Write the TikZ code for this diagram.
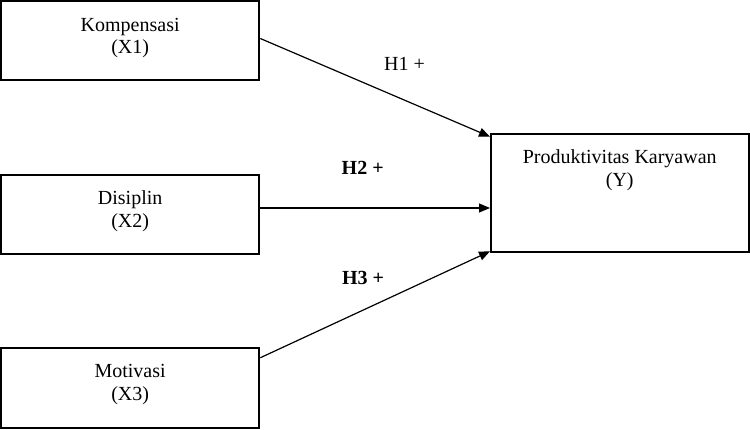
\documentclass[tikz,border=0pt]{standalone}
\usepackage{fontspec}
\setmainfont{Liberation Serif}
\usepackage{tikz}
\usetikzlibrary{calc,arrows.meta}

\begin{document}
\begin{tikzpicture}[x=1pt,y=-1pt,
		varbox/.style={draw,line width=2pt,outer sep=0pt,inner sep=0pt,minimum width=258.3pt,minimum height=79.5pt},
		vartext/.style={anchor=north,inner sep=0pt,align=center,font=\fontsize{20}{22.5}\selectfont},
		hyp/.style={anchor=base,inner sep=0pt,font=\fontsize{20}{22.5}\selectfont},
		link/.style={line width=1.2pt,-{Triangle[length=11pt,width=9pt]}}]
				%page size fixed by hand
				\useasboundingbox (0,0) rectangle (750,430);
				%% independent variables on the left, dependent on the right
				\node[varbox] (x1) at (130.15, 40.5){};
				\node[varbox] (x2) at (130.15, 214.3){};
				\node[varbox] (x3) at (130.15, 388){};
				\node[varbox, minimum width=257.5pt, minimum height=118.6pt] (y) at (619.75, 193){};

				\node[vartext] (x1t) at ($(x1.north)+(0,17)$){Kompensasi\\(X1)};
				\node[vartext] (x2t) at ($(x2.north)+(0,16)$){Disiplin\\(X2)};
				\node[vartext] (x3t) at ($(x3.north)+(0,16)$){Motivasi\\(X3)};
				\node[vartext] (yt) at ($(y.north)+(0,16)$){Produktivitas Karyawan\\(Y)};

				%% arrow ends on the left side of y
				\coordinate (h1) at ($(y.north west)+(-1,3)$);
				\coordinate (h2) at ($(y.west)+(-1,15)$);
				\coordinate (h3) at ($(y.south west)+(-1,-1)$);

				\draw [link]($(x1.east)+(1,-2)$)--(h1);
				\draw [link](x2.east |- h2)--(h2);
				\draw [link]($(x3.north east)+(1,9.5)$)--(h3);

				\node[hyp] (h1l) at (404.5, 71){H1 +};
				\node[hyp] (h2l) at (362.7, 175){\bfseries H2 +};
				\node[hyp] (h3l) at (363, 285){\bfseries H3 +};
				%\draw (x1) .. controls (300,40) and (400,100) .. (y);
\end{tikzpicture}
\end{document}
